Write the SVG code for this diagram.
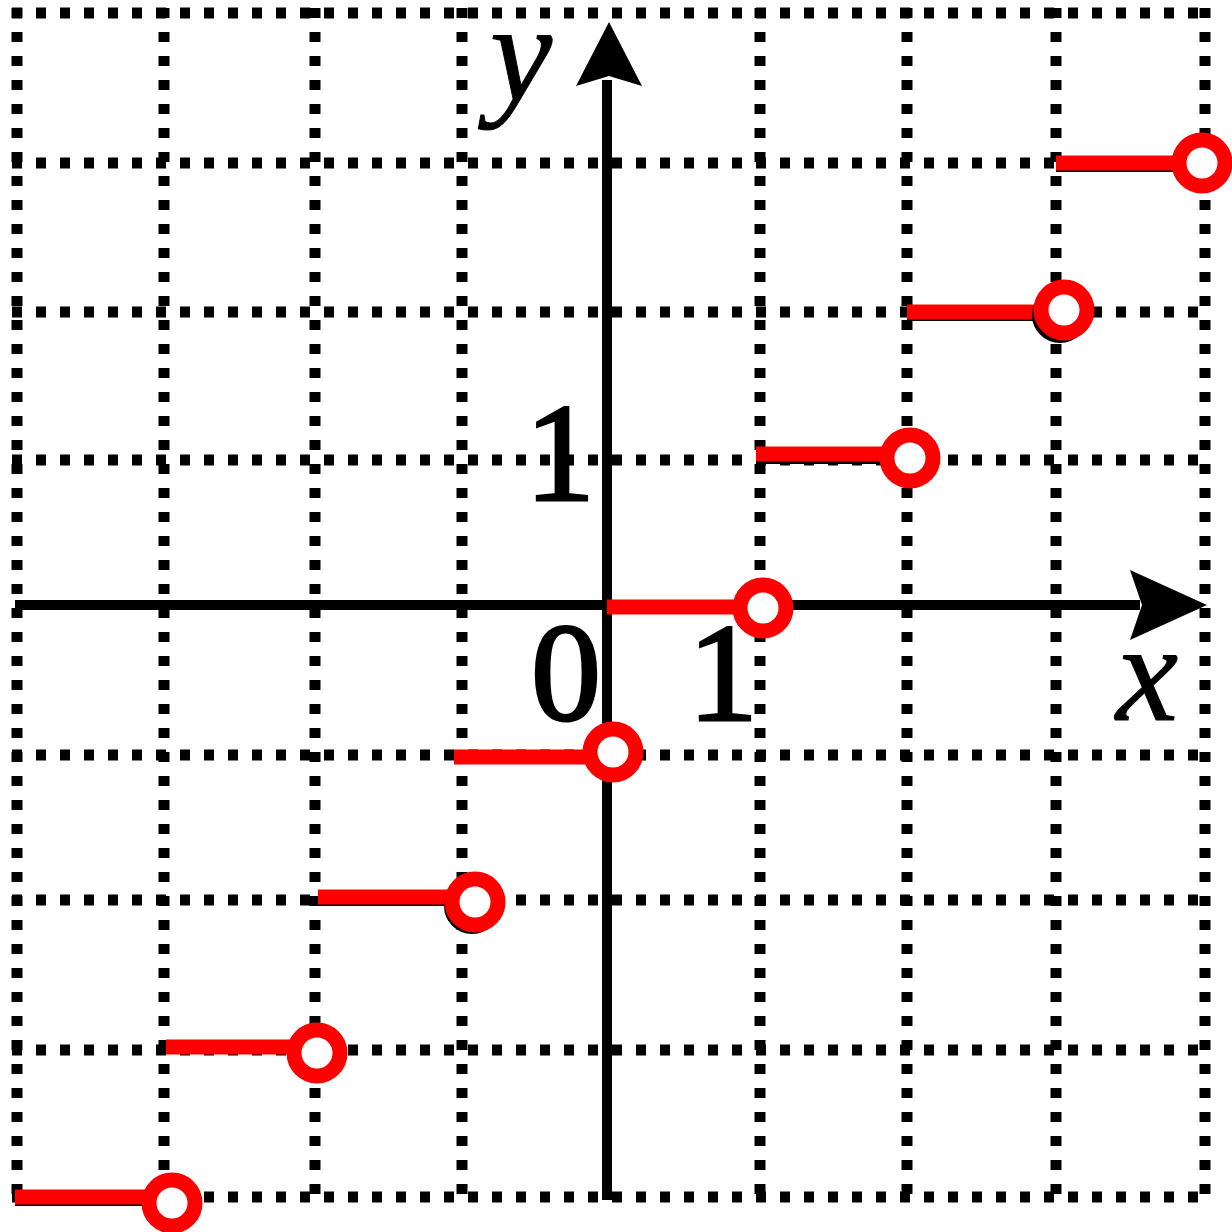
<svg xmlns="http://www.w3.org/2000/svg" width="1232" height="1232" viewBox="0 0 1232 1232">
<style>
.grid{stroke:#000;stroke-width:11;stroke-dasharray:10 14;fill:none}
.axis{stroke:#000;stroke-width:10;fill:none}
.seg{stroke:#f00;stroke-width:15;stroke-linecap:butt}
.shadow{stroke:#000;stroke-width:10}
.open{fill:#fff;stroke:#f00;stroke-width:15}
.openshadow{fill:none;stroke:#000;stroke-width:12}
.lbl{font-family:"Liberation Serif",serif;font-size:140px;fill:#000;stroke:#000;stroke-width:3}
.it{font-style:italic;stroke-width:1}
</style>
<rect width="1232" height="1232" fill="#fff"/>
<g id="grid">
<path class="grid" d="M17 8V1205M164 8V1205M315 8V1205M462 8V1205M760 8V1205M907 8V1205M1056 8V1205M1205 8V1205"/>
<path class="grid" d="M12 13H1212M12 163H1212M12 312H1212M12 460H1212M12 755H1212M12 900H1212M12 1050H1212M12 1197H1212"/>
</g>
<g id="axes">
<line class="axis" x1="15" y1="605" x2="1140" y2="605"/>
<polygon points="1130,570 1207,605 1130,640 1142,605" fill="#000"/>
<line class="axis" x1="607" y1="1200" x2="607" y2="80"/>
<polygon points="576,86 609,22 642,86 609,76" fill="#000"/>
</g>
<g id="labels">
<text class="lbl it" x="490" y="100">y</text>
<text class="lbl it" x="1116" y="720">x</text>
<text class="lbl" x="525" y="500">1</text>
<text class="lbl" x="531" y="720">0</text>
<text class="lbl" x="688" y="720">1</text>
</g>
<g id="steps">
<g id="step-4"><line class="shadow" x1="1056" y1="167" x2="1190" y2="167"/><line class="seg" x1="1056" y1="163" x2="1202" y2="163"/><circle class="open" cx="1202" cy="163" r="23"/></g>
<g id="step-3"><line class="shadow" x1="907" y1="316" x2="1050" y2="316"/><line class="seg" x1="907" y1="312" x2="1064" y2="312"/><circle class="openshadow" cx="1060" cy="315" r="22"/><circle class="open" cx="1064" cy="310" r="23"/></g>
<g id="step-2"><line class="shadow" x1="756" y1="459" x2="895" y2="459"/><line class="seg" x1="756" y1="454" x2="910" y2="454"/><circle class="open" cx="910" cy="458" r="23"/></g>
<g id="step-1"><line class="seg" x1="607" y1="607" x2="763" y2="607"/><circle class="open" cx="763" cy="608" r="23"/></g>
<g id="step0"><line class="seg" x1="454" y1="757" x2="613" y2="757"/><circle class="open" cx="613" cy="752" r="23"/></g>
<g id="step-m1"><line class="shadow" x1="318" y1="901" x2="460" y2="901"/><line class="seg" x1="318" y1="897" x2="475" y2="897"/><circle class="openshadow" cx="472" cy="906" r="22"/><circle class="open" cx="475" cy="902" r="23"/></g>
<g id="step-m2"><line class="seg" x1="166" y1="1047" x2="317" y2="1047"/><circle class="open" cx="317" cy="1053" r="23"/></g>
<g id="step-m3"><line class="shadow" x1="15" y1="1201" x2="160" y2="1201"/><line class="seg" x1="15" y1="1197" x2="172" y2="1197"/><circle class="open" cx="172" cy="1203" r="23"/></g>
</g>
</svg>
